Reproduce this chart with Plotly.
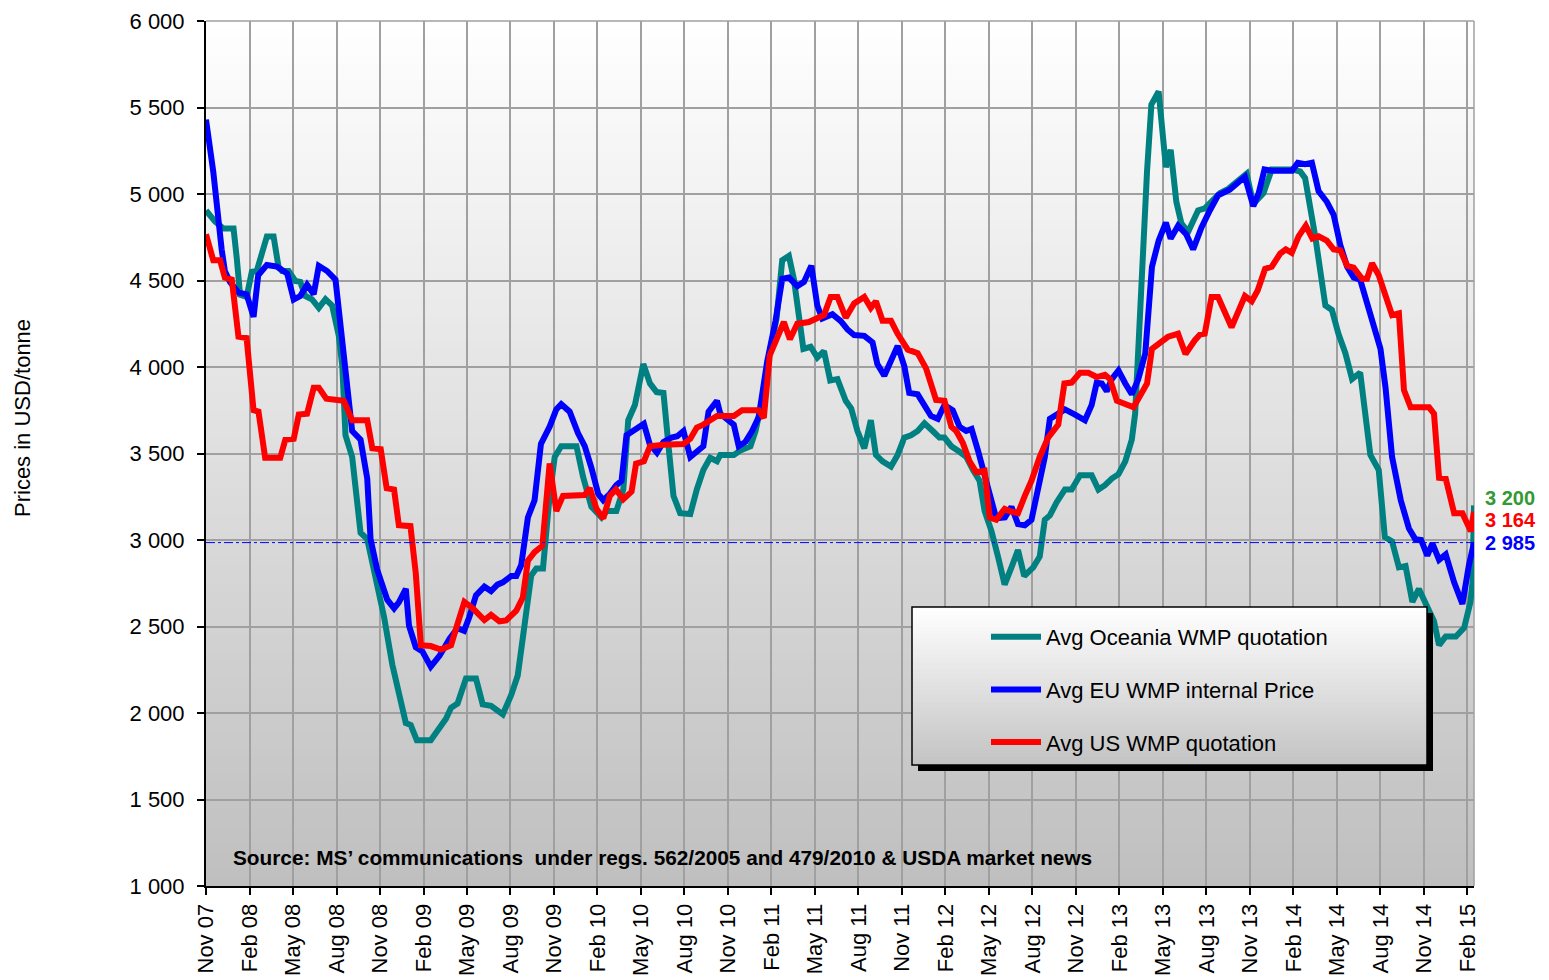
import plotly.graph_objects as go

# ---------------- data ----------------
tick_labels = ["Nov 07", "Feb 08", "May 08", "Aug 08", "Nov 08", "Feb 09", "May 09", "Aug 09",
               "Nov 09", "Feb 10", "May 10", "Aug 10", "Nov 10", "Feb 11", "May 11", "Aug 11",
               "Nov 11", "Feb 12", "May 12", "Aug 12", "Nov 12", "Feb 13", "May 13", "Aug 13",
               "Nov 13", "Feb 14", "May 14", "Aug 14", "Nov 14", "Feb 15"]
tick_months = [0, 3, 6, 9, 12, 15, 18, 21, 24, 27, 30, 33, 36, 39, 42, 45, 48, 51, 54, 57,
               60, 63, 66, 69, 72, 75, 78, 81, 84, 87]

# months since Nov 2007
oce_m = [0, 0.62, 1.2, 1.9, 2.12, 2.35, 2.8, 3.16, 3.5, 3.85, 4.2, 4.66, 5.0, 5.24, 5.7, 6.16,
         6.5, 6.85, 7.3, 7.78, 8.24, 8.7, 9.16, 9.4, 9.62, 10.08, 10.43, 10.66, 11.12, 11.58,
         12.28, 12.85, 13.3, 13.78, 14.12, 14.54, 15.5, 16.08, 16.55, 16.9, 17.35, 17.93,
         18.62, 19.08, 19.66, 20.47, 21.05, 21.5, 21.97, 22.43, 22.78, 23.24, 23.7, 24.05,
         24.5, 25.55, 26.0, 26.58, 27.28, 27.62, 28.3, 28.78, 29.12, 29.58, 30.16, 30.62,
         31.08, 31.55, 31.9, 32.24, 32.7, 33.4, 33.85, 34.3, 34.77, 35.24, 35.47, 36.4,
         36.85, 37.55, 37.9, 38.35, 38.93, 39.35, 39.74, 40.2, 40.55, 40.9, 41.2, 41.7,
         42.16, 42.62, 43.05, 43.55, 44.12, 44.5, 44.93, 45.4, 45.85, 46.2, 46.66, 47.24,
         47.7, 48.16, 48.62, 49.08, 49.55, 50.12, 50.58, 50.93, 51.4, 51.97, 52.43, 52.9,
         53.35, 53.7, 54.16, 54.62, 55.08, 55.55, 56.0, 56.43, 57.05, 57.5, 57.85, 58.2,
         58.66, 59.24, 59.7, 60.28, 61.08, 61.55, 62.0, 62.47, 62.93, 63.4, 63.85, 64.08,
         64.3, 64.55, 64.9, 65.2, 65.7, 66.2, 66.53, 66.92, 67.27, 67.73, 68.42, 68.88,
         69.35, 69.92, 70.5, 71.08, 71.77, 72.23, 72.93, 73.5, 74.9, 75.46, 75.8, 76.5,
         77.2, 77.65, 78.1, 78.58, 79.04, 79.6, 80.3, 80.88, 81.3, 81.8, 82.27, 82.73,
         83.2, 83.65, 84.23, 84.69, 85.04, 85.5, 86.2, 86.77, 87.2, 87.35, 87.45]
oce_v = [4905, 4842, 4800, 4800, 4630, 4417, 4405, 4550, 4555, 4655, 4755, 4755, 4580, 4555,
         4555, 4497, 4492, 4410, 4392, 4342, 4392, 4355, 4180, 4005, 3605, 3480, 3255, 3042,
         3005, 2830, 2555, 2280, 2105, 1942, 1930, 1842, 1842, 1905, 1967, 2030, 2055, 2200,
         2200, 2050, 2042, 1992, 2105, 2217, 2510, 2795, 2835, 2835, 3255, 3480, 3542, 3542,
         3367, 3192, 3130, 3167, 3167, 3292, 3692, 3780, 4017, 3905, 3855, 3850, 3542, 3255,
         3155, 3150, 3292, 3405, 3475, 3455, 3492, 3492, 3517, 3542, 3630, 3805, 4105, 4280,
         4617, 4642, 4505, 4292, 4105, 4117, 4055, 4092, 3922, 3930, 3805, 3760, 3630, 3530,
         3692, 3492, 3455, 3425, 3492, 3592, 3605, 3630, 3675, 3630, 3592, 3592, 3542, 3510,
         3480, 3405, 3342, 3167, 3055, 2905, 2742, 2842, 2942, 2792, 2842, 2905, 3117, 3142,
         3217, 3292, 3292, 3375, 3375, 3292, 3317, 3355, 3380, 3455, 3580, 3730, 4130, 4630,
         5130, 5517, 5592, 5155, 5255, 4955, 4830, 4780, 4905, 4917, 4955, 5005, 5030, 5067,
         5117, 4942, 5005, 5142, 5142, 5130, 5092, 4755, 4355, 4330, 4192, 4080, 3930, 3967,
         3492, 3405, 3017, 2992, 2842, 2850, 2642, 2717, 2617, 2530, 2392, 2442, 2442, 2492,
         2640, 2760, 3200]

eu_m = [0, 0.5, 1.08, 1.3, 1.66, 2.24, 2.8, 3.28, 3.6, 4.2, 4.9, 5.6, 6.05, 6.5, 6.97, 7.43,
        7.78, 8.35, 8.93, 9.28, 9.74, 10.08, 10.66, 11.12, 11.35, 11.8, 12.5, 12.97, 13.3,
        13.78, 14.0, 14.47, 14.93, 15.5, 16.1, 16.8, 17.35, 17.8, 18.16, 18.62, 19.2, 19.66,
        20.1, 20.47, 21.05, 21.4, 21.74, 22.2, 22.66, 23.1, 23.7, 24.16, 24.5, 25.08, 25.66,
        26.12, 26.58, 27.05, 27.4, 27.85, 28.3, 28.66, 29.0, 29.6, 30.2, 30.6, 31.1, 31.55,
        32.1, 32.5, 32.93, 33.4, 33.85, 34.3, 34.66, 35.24, 35.47, 36.4, 36.74, 37.2, 37.66,
        38.12, 38.7, 39.28, 39.74, 40.2, 40.78, 41.24, 41.75, 42.16, 42.5, 43.2, 43.78, 44.24,
        44.7, 45.4, 45.97, 46.3, 46.78, 47.24, 47.7, 48.16, 48.5, 49.08, 49.66, 50.0, 50.47,
        50.93, 51.5, 51.97, 52.43, 52.8, 53.24, 53.7, 54.16, 54.5, 55.1, 55.55, 56.0, 56.47,
        56.93, 57.4, 57.85, 58.2, 58.66, 59.24, 59.93, 60.62, 61.08, 61.43, 61.78, 62.12,
        62.47, 62.93, 63.4, 63.85, 64.3, 64.78, 65.24, 65.7, 66.2, 66.53, 67.04, 67.6, 68.08,
        68.65, 69.23, 69.8, 70.6, 71.65, 72.23, 72.6, 73.0, 73.5, 74.9, 75.3, 75.8, 76.27,
        76.73, 77.3, 77.77, 78.23, 78.7, 79.15, 79.6, 80.07, 80.54, 81.0, 81.35, 81.8, 82.4,
        82.96, 83.4, 83.8, 84.23, 84.58, 85.04, 85.5, 86.08, 86.65, 87.1, 87.45]
eu_v = [5430, 5130, 4680, 4555, 4490, 4430, 4420, 4290, 4530, 4590, 4580, 4540, 4390, 4410,
        4475, 4420, 4585, 4555, 4505, 4255, 3880, 3630, 3580, 3355, 3005, 2830, 2655, 2605,
        2640, 2718, 2505, 2380, 2355, 2268, 2330, 2430, 2490, 2475, 2555, 2680, 2730, 2705,
        2742, 2755, 2792, 2792, 2855, 3130, 3230, 3555, 3655, 3755, 3785, 3742, 3617, 3542,
        3417, 3267, 3230, 3267, 3317, 3342, 3605, 3642, 3672, 3555, 3505, 3567, 3592, 3600,
        3630, 3480, 3510, 3542, 3742, 3805, 3730, 3667, 3542, 3567, 3630, 3710, 4030, 4267,
        4510, 4517, 4467, 4492, 4585, 4355, 4280, 4305, 4265, 4217, 4185, 4180, 4142, 4017,
        3950, 4030, 4122, 4005, 3850, 3842, 3755, 3717, 3700, 3780, 3750, 3655, 3630, 3642,
        3517, 3380, 3242, 3125, 3130, 3192, 3092, 3085, 3117, 3305, 3480, 3700, 3725, 3755,
        3725, 3692, 3780, 3910, 3905, 3860, 3930, 3980, 3905, 3842, 3930, 4080, 4580, 4730,
        4835, 4742, 4817, 4767, 4680, 4805, 4905, 4992, 5025, 5100, 4930, 5005, 5142, 5135,
        5135, 5180, 5172, 5180, 5017, 4955, 4880, 4705, 4580, 4517, 4505, 4380, 4242, 4105,
        3880, 3480, 3230, 3067, 3005, 3000, 2910, 2980, 2885, 2917, 2755, 2630, 2855, 2985]

us_m = [0, 0.5, 0.97, 1.3, 1.78, 2.24, 2.8, 3.28, 3.62, 4.08, 5.12, 5.47, 6.05, 6.4, 6.97,
        7.43, 7.78, 8.3, 9.5, 10.08, 11.12, 11.47, 12.05, 12.46, 12.97, 13.3, 14.1, 14.47,
        14.82, 15.5, 16.2, 16.9, 17.35, 17.82, 18.4, 19.2, 19.66, 20.24, 20.7, 21.4, 21.85,
        22.2, 22.66, 23.2, 23.7, 24.16, 24.62, 26.12, 26.47, 26.93, 27.4, 27.85, 28.27, 28.78,
        29.35, 29.66, 30.2, 30.62, 31.55, 32.93, 33.4, 33.85, 34.3, 35.24, 36.4, 36.97, 38.12,
        38.47, 38.88, 39.35, 39.85, 40.27, 40.78, 41.58, 42.16, 42.62, 43.08, 43.55, 44.12,
        44.7, 45.4, 45.85, 46.2, 46.66, 47.24, 47.7, 48.4, 49.08, 49.66, 50.0, 50.35, 50.93,
        51.4, 51.74, 52.2, 52.66, 53.12, 53.7, 54.05, 54.5, 55.08, 55.43, 56.0, 56.47, 56.93,
        57.5, 58.08, 58.78, 59.2, 59.7, 60.28, 60.85, 61.43, 62.0, 62.35, 62.82, 63.4, 63.97,
        64.43, 64.9, 65.24, 65.7, 66.35, 67.04, 67.55, 68.2, 68.54, 68.88, 69.35, 69.8, 70.73,
        71.65, 72.12, 72.53, 73.04, 73.5, 74.08, 74.47, 74.88, 75.35, 75.85, 76.3, 76.73,
        77.3, 77.77, 78.23, 78.7, 79.15, 79.73, 80.07, 80.42, 80.88, 81.35, 81.8, 82.27,
        82.62, 83.08, 84.35, 84.69, 85.04, 85.5, 86.08, 86.65, 87.23, 87.45]
us_v = [4767, 4617, 4617, 4517, 4505, 4175, 4167, 3750, 3742, 3475, 3475, 3580, 3585, 3725,
        3730, 3880, 3880, 3817, 3805, 3692, 3692, 3530, 3525, 3300, 3292, 3085, 3080, 2805,
        2392, 2387, 2367, 2392, 2517, 2642, 2605, 2537, 2567, 2530, 2535, 2592, 2667, 2880,
        2930, 2967, 3442, 3167, 3255, 3260, 3300, 3180, 3125, 3255, 3292, 3235, 3280, 3442,
        3455, 3542, 3550, 3555, 3585, 3650, 3667, 3717, 3717, 3750, 3750, 3705, 4067, 4167,
        4260, 4160, 4250, 4260, 4280, 4300, 4405, 4405, 4285, 4367, 4405, 4342, 4380, 4267,
        4267, 4192, 4100, 4080, 3992, 3905, 3810, 3805, 3655, 3630, 3560, 3455, 3392, 3400,
        3130, 3117, 3180, 3167, 3155, 3255, 3342, 3480, 3592, 3667, 3905, 3910, 3967, 3967,
        3942, 3955, 3930, 3805, 3785, 3767, 3835, 3905, 4105, 4130, 4175, 4192, 4075, 4155,
        4187, 4192, 4405, 4405, 4230, 4410, 4380, 4442, 4567, 4580, 4655, 4680, 4660, 4755,
        4817, 4742, 4755, 4730, 4680, 4675, 4585, 4575, 4510, 4510, 4600, 4530, 4405, 4300,
        4310, 3867, 3767, 3767, 3730, 3360, 3355, 3155, 3155, 3050, 3164]

series_names = ["Avg Oceania WMP quotation", "Avg EU WMP internal Price", "Avg US WMP quotation"]
series_colors = ["#008080", "#0000FF", "#FF0000"]
last_labels = ["3 200", "3 164", "2 985"]
last_label_colors = ["#339933", "#FF0000", "#0000FF"]
last_label_y = [3245, 3115, 2980]
eu_last = 2985

FONT = "Liberation Sans, Arial, sans-serif"

fig = go.Figure()
for name, mm, vv, col in zip(series_names, [oce_m, eu_m, us_m], [oce_v, eu_v, us_v], series_colors):
    fig.add_trace(go.Scatter(x=mm, y=vv, mode="lines", name=name, legendgroup=name,
                             line=dict(color=col, width=6), hoverinfo="x+y+name"))

# page offset (browser body margin) compensation
OFF = 8
TOPM = 13                                    # figure top margin (keeps top tick label inside)
PW, L = 1268.0, 206.0                        # plot area in screen pixels
T = OFF + TOPM
PH = 886.0 - T
def px(xp):
    return (xp - L) / PW
def py(yp):
    return (T + PH - yp) / PH

shapes = []
# plot-area gradient background (white -> grey)
nb = 100
for i in range(nb):
    f = (i + 0.5) / nb
    c = int(round(255 - 64 * f))
    shapes.append(dict(type="rect", xref="paper", yref="paper", x0=0, x1=1,
                       y0=max(0, 1 - (i + 1.6) / nb), y1=1 - i / nb, layer="below",
                       line=dict(width=0), fillcolor=f"rgb({c},{c},{c})"))
# right and top borders (grey, like the grid)
shapes.append(dict(type="line", xref="paper", yref="paper", x0=1, x1=1, y0=0, y1=1,
                   line=dict(color="#a0a0a0", width=1.5), layer="below"))
shapes.append(dict(type="line", xref="paper", yref="paper", x0=0, x1=1, y0=1, y1=1,
                   line=dict(color="#a0a0a0", width=1.5), layer="below"))
# reference dash-dot line at last EU price
shapes.append(dict(type="line", xref="paper", yref="y", x0=0, x1=1, y0=eu_last, y1=eu_last,
                   line=dict(color="#0000FF", width=1, dash="dashdot"), layer="above"))

# legend box (shadow + gradient + border)
bx0, bx1, by0, by1 = 912, 1427, 607, 765
sh = 6
shapes.append(dict(type="rect", xref="paper", yref="paper", x0=px(bx0 + sh), x1=px(bx1 + sh),
                   y0=py(by1 + sh), y1=py(by0 + sh), fillcolor="black", line=dict(width=0),
                   layer="above"))
nl = 40
for i in range(nl):
    f = (i + 0.5) / nl
    c = int(round(255 - 60 * f))
    ya = by0 + (by1 - by0) * i / nl
    yb = min(by1, by0 + (by1 - by0) * (i + 1.6) / nl)
    shapes.append(dict(type="rect", xref="paper", yref="paper", x0=px(bx0), x1=px(bx1),
                       y0=py(yb), y1=py(ya), fillcolor=f"rgb({c},{c},{c})",
                       line=dict(width=0), layer="above"))
shapes.append(dict(type="rect", xref="paper", yref="paper", x0=px(bx0), x1=px(bx1),
                   y0=py(by1), y1=py(by0), line=dict(color="black", width=1.5),
                   fillcolor="rgba(0,0,0,0)", layer="above"))

annotations = []
for txt, col, yv in zip(last_labels, last_label_colors, last_label_y):
    annotations.append(dict(text=f"<b>{txt}</b>", xref="paper", yref="y", x=px(1483), y=yv,
                            xanchor="left", yanchor="middle", showarrow=False,
                            font=dict(family=FONT, size=20, color=col)))
annotations.append(dict(text="<b>Source: MS’ communications\u00a0 under regs. 562/2005 and 479/2010 & USDA market news</b>",
                        xref="paper", yref="paper", x=px(231), y=py(857), xanchor="left",
                        yanchor="middle", showarrow=False,
                        font=dict(family=FONT, size=20.8, color="black")))
# y-axis title (placed as in the reference, above the axis centre)
annotations.append(dict(text="Prices in USD/tonne", xref="paper", yref="paper", x=px(22),
                        y=py(418), xanchor="center", yanchor="middle", textangle=-90,
                        showarrow=False, font=dict(family=FONT, size=22, color="black")))

fig.update_layout(
    width=1549, height=980,
    margin=dict(l=206 - OFF, r=75 + OFF, t=TOPM, b=94 + OFF, autoexpand=False),
    paper_bgcolor="white", plot_bgcolor="white",
    separators=". ",
    font=dict(family=FONT, color="black"),
    shapes=shapes, annotations=annotations,
    showlegend=True,
    legend=dict(x=px(986), y=py(616), xanchor="left", yanchor="top",
                bgcolor="rgba(0,0,0,0)", borderwidth=0, tracegroupgap=21,
                itemwidth=50, font=dict(family=FONT, size=22, color="black")),
    xaxis=dict(range=[0, 87.45], tickmode="array", tickvals=tick_months, ticktext=tick_labels,
               tickangle=-90, ticks="outside", ticklen=7, tickwidth=1.5, tickcolor="black",
               showline=True, linecolor="black", linewidth=2, showgrid=True,
               gridcolor="#a0a0a0", gridwidth=1.5, zeroline=False, automargin=False,
               ticklabeloverflow="allow",
               tickfont=dict(family=FONT, size=22, color="black")),
    yaxis=dict(range=[1000, 6000], tick0=1000, dtick=500, tickformat=",d", ticks="outside",
               ticklen=7, tickwidth=1.5, tickcolor="black", showline=True, linecolor="black",
               linewidth=2, showgrid=True, gridcolor="#a0a0a0", gridwidth=1.5, zeroline=False,
               automargin=False, ticklabelstandoff=8, ticklabeloverflow="allow",
               tickfont=dict(family=FONT, size=22, color="black")),
)

fig.write_html("out.html")
